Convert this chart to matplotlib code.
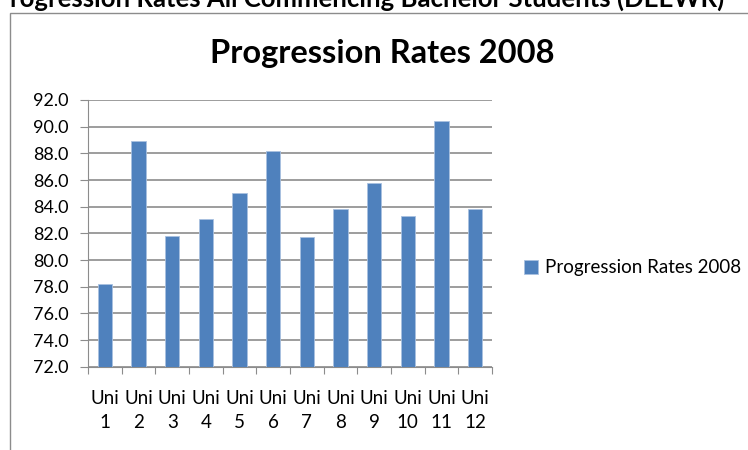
import matplotlib.pyplot as plt
from matplotlib.patches import Rectangle
import numpy as np

# Donnees
universites = ["Uni\n1", "Uni\n2", "Uni\n3", "Uni\n4", "Uni\n5", "Uni\n6",
               "Uni\n7", "Uni\n8", "Uni\n9", "Uni\n10", "Uni\n11", "Uni\n12"]
taux_2008 = [78.2, 88.9, 81.8, 83.1, 85.0, 88.2, 81.7, 83.8, 85.75, 83.3, 90.4, 83.8]
y_ticks = np.arange(72, 92.1, 2)

plt.rcParams['font.family'] = ['Lato', 'DejaVu Sans']

W, H = 748, 450
fig = plt.figure(figsize=(W / 100, H / 100), dpi=100)

# Cadre exterieur du graphique (coupe par le bord de l'image)
fig.patches.append(Rectangle((10 / W, -0.1), 1.2, 1 - 13 / H + 0.1, transform=fig.transFigure,
                             fill=False, edgecolor='#8c8c8c', linewidth=1))

# Titre du document, coupe en haut
fig.text(-6 / W, 1 - 6.5 / H, "Progression Rates All Commencing Bachelor Students (DEEWR)",
         fontsize=18.5, fontweight='bold', ha='left', va='baseline', color='black')

# Titre du graphique
fig.text(382 / W, 1 - 63 / H, "Progression Rates 2008", fontsize=23.5, fontweight='bold',
         ha='center', va='baseline')

ax = fig.add_axes([88 / W, 1 - 366.7 / H, (492 - 88) / W, (366.7 - 100) / H])

x = np.arange(len(universites))
barres = ax.bar(x, taux_2008, width=0.43, bottom=0, color='#4F81BD',
                edgecolor='#a9c1e0', linewidth=0.6, label='Progression Rates 2008', zorder=3)

ax.set_ylim(72, 92)
ax.set_xlim(-0.5, len(universites) - 0.5)
ax.set_yticks(y_ticks)
ax.set_yticklabels([f"{v:.1f}" for v in y_ticks], fontsize=13)
ax.grid(axis='y', color='#8c8c8c', linewidth=1.2, zorder=0)

# Graduations x aux limites des categories
ax.set_xticks(np.arange(-0.5, len(universites), 1))
ax.set_xticklabels([])
ax.set_xticks(x, minor=True)
ax.set_xticklabels(universites, minor=True, fontsize=13.5, linespacing=1.45)
ax.tick_params(axis='x', which='major', direction='out', length=5, color='#8c8c8c')
ax.tick_params(axis='x', which='minor', length=0, pad=17)
ax.tick_params(axis='y', direction='out', length=6, color='#8c8c8c', pad=8)

for cote in ['top', 'right']:
    ax.spines[cote].set_visible(False)
ax.spines['left'].set_color('#8c8c8c')
ax.spines['bottom'].set_color('#8c8c8c')

# Legende
fig.legend(handles=[barres], loc='center left', bbox_to_anchor=(507 / W, 1 - 268 / H),
           frameon=False, fontsize=13.5, handlelength=0.75, handleheight=0.75, handletextpad=0.4)

fig.savefig("out.png", dpi=100)
